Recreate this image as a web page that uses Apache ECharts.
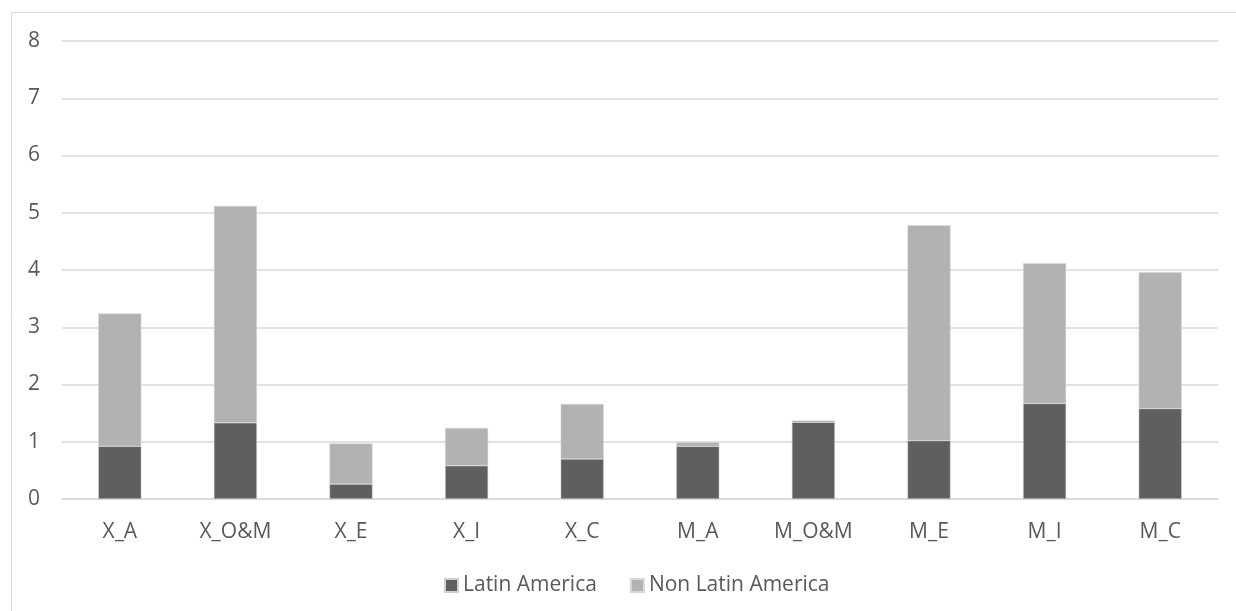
<!DOCTYPE html>
<html>
<head>
<meta charset="utf-8">
<script src="https://cdn.jsdelivr.net/npm/echarts@6/dist/echarts.min.js"></script>
<style>
  html, body { margin: 0; padding: 0; background: #fff; }
  #chart { width: 1236px; height: 611px; }
</style>
</head>
<body>
<div id="chart"></div>
<script>
// Categories along the x axis
const categories = ['X_A', 'X_O&M', 'X_E', 'X_I', 'X_C', 'M_A', 'M_O&M', 'M_E', 'M_I', 'M_C'];
// Stacked series values
const latinAmerica = [0.92, 1.33, 0.26, 0.58, 0.70, 0.92, 1.34, 1.02, 1.67, 1.58];
const nonLatinAmerica = [2.32, 3.79, 0.71, 0.66, 0.96, 0.07, 0.03, 3.76, 2.45, 2.38];
const seriesNames = ['Latin America', 'Non Latin America'];

const FONT = '"Open Sans", "Liberation Sans", sans-serif';
const TEXT = '#595959';

const chart = echarts.init(document.getElementById('chart'), null, { renderer: 'canvas' });

chart.setOption({
  animation: false,
  backgroundColor: '#fff',
  graphic: [{
    type: 'rect',
    shape: { x: 11.5, y: 12.5, width: 1300, height: 700 },
    style: { fill: 'none', stroke: '#d9d9d9', lineWidth: 1 },
    silent: true
  }],
  grid: { left: 62, right: 18, top: 41, bottom: 112, containLabel: false },
  legend: {
    data: seriesNames,
    top: 570,
    left: 439,
    itemWidth: 13,
    itemHeight: 13,
    itemGap: 33,
    icon: 'rect',
    textStyle: { color: TEXT, fontFamily: FONT, fontSize: 21 }
  },
  xAxis: {
    type: 'category',
    data: categories,
    axisLine: { show: true, lineStyle: { color: '#d9d9d9', width: 1.5 } },
    axisTick: { show: false },
    axisLabel: { color: TEXT, fontFamily: FONT, fontSize: 21, margin: 23 }
  },
  yAxis: {
    type: 'value',
    min: 0,
    max: 8,
    interval: 1,
    axisLine: { show: false },
    axisTick: { show: false },
    splitLine: { lineStyle: { color: '#d9d9d9', width: 1.5 } },
    axisLabel: { color: TEXT, fontFamily: FONT, fontSize: 21, margin: 22 }
  },
  series: [
    {
      name: seriesNames[0],
      type: 'bar',
      stack: 'total',
      barWidth: 43,
      data: latinAmerica,
      itemStyle: { color: '#5f5f5f', borderColor: '#d0d0d0', borderWidth: 0.5 }
    },
    {
      name: seriesNames[1],
      type: 'bar',
      stack: 'total',
      barWidth: 43,
      data: nonLatinAmerica,
      itemStyle: { color: '#b2b2b2', borderColor: '#d8d8d8', borderWidth: 0.5 }
    }
  ]
});
</script>
</body>
</html>
